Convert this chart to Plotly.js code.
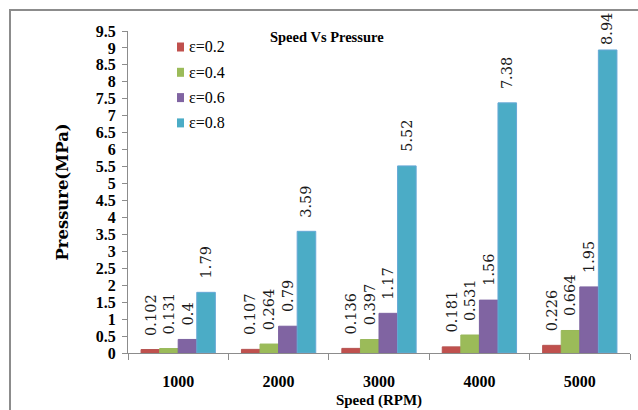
<!DOCTYPE html>
<html>
<head>
<meta charset="utf-8">
<script src="https://cdn.plot.ly/plotly-3.0.1.min.js"></script>
<style>
  html, body { margin: 0; padding: 0; background: #fff; }
  #wrap { position: relative; width: 638px; height: 410px; overflow: hidden; }
  #chart { position: absolute; left: 0; top: 0; width: 638px; height: 410px; }
  #frame { position: absolute; left: 9px; top: 9px; width: 640px; height: 420px;
           border-left: 2px solid #8c8c8c; border-top: 2px solid #8c8c8c; pointer-events: none; }
</style>
</head>
<body>
<div id="wrap">
  <div id="chart"></div>
  <div id="frame"></div>
</div>
<script>
// Speed categories (RPM)
const speeds = ['1000', '2000', '3000', '4000', '5000'];

// Pressure (MPa) for each eccentricity ratio
const eps02 = [0.102, 0.107, 0.136, 0.181, 0.226];
const eps04 = [0.131, 0.264, 0.397, 0.531, 0.664];
const eps06 = [0.4, 0.79, 1.17, 1.56, 1.95];
const eps08 = [1.79, 3.59, 5.52, 7.38, 8.94];

const seriesNames = ['ε=0.2', 'ε=0.4', 'ε=0.6', 'ε=0.8'];
const seriesColors = ['#C0504D', '#9BBB59', '#8064A2', '#4BACC6'];
const seriesEdges = ['#b65350', '#98b85a', '#7c62a0', '#66a8d6'];
const seriesValues = [eps02, eps04, eps06, eps08];

// Plot geometry (pixels)
const W = 638, H = 410;
const M = { l: 128, r: 8, t: 31, b: 57 };
const plotW = W - M.l - M.r;
const plotH = H - M.t - M.b;
const yMax = 9.5;
const bargap = 0.26;

const serif = 'Liberation Serif';
const labelFont = { family: 'DejaVu Serif', size: 14.5, color: '#1a1a1a' };

const traces = seriesValues.map((vals, i) => ({
  type: 'bar',
  name: seriesNames[i],
  x: speeds,
  y: vals,
  marker: { color: seriesColors[i], line: { color: seriesEdges[i], width: 1 } },
  showlegend: false,
  hoverinfo: 'x+y+name'
}));

// Value labels: rotated, sitting a little above each bar
const nSeries = seriesValues.length;
const barW = (1 - bargap) / nSeries;
const pxPerUnit = plotH / yMax;
const labelGap = 12;
const minTop = 15; // keep labels inside the frame
const annotations = [];
seriesValues.forEach((vals, i) => {
  const off = -(1 - bargap) / 2 + barW * (i + 0.5);
  vals.forEach((v, j) => {
    const s = String(v);
    const digits = s.replace('.', '').length;
    const textLen = (digits * 0.636 + (s.includes('.') ? 0.318 : 0)) * labelFont.size;
    const barTopPx = M.t + (yMax - v) * pxPerUnit;
    let gap = labelGap;
    if (barTopPx - gap - textLen < minTop) gap = barTopPx - textLen - minTop;
    annotations.push({
      xref: 'x', yref: 'y',
      x: j + off, y: v,
      text: s,
      textangle: -90,
      showarrow: false,
      xanchor: 'center', yanchor: 'bottom',
      yshift: gap,
      font: labelFont
    });
  });
});

// Legend: swatches and labels in the upper left of the plot
const legendLeftPx = 177, legendTopPx = 47, legendStepPx = 25.3;
const toPX = px => (px - M.l) / plotW;
const toPY = py => (H - M.b - py) / plotH;
const shapes = [];
seriesNames.forEach((name, i) => {
  const cy = legendTopPx + i * legendStepPx;
  shapes.push({
    type: 'rect', xref: 'paper', yref: 'paper',
    x0: toPX(legendLeftPx), x1: toPX(legendLeftPx + 7),
    y0: toPY(cy + 4.5), y1: toPY(cy - 4.5),
    fillcolor: seriesColors[i], line: { width: 0 }
  });
  annotations.push({
    xref: 'paper', yref: 'paper',
    x: toPX(legendLeftPx + 10), y: toPY(cy),
    xanchor: 'left', yanchor: 'middle',
    text: name, showarrow: false,
    font: { family: serif, size: 16, color: '#000' }
  });
});

const layout = {
  width: W,
  height: H,
  margin: M,
  paper_bgcolor: '#ffffff',
  plot_bgcolor: '#ffffff',
  barmode: 'group',
  bargap: bargap,
  bargroupgap: 0,
  title: {
    text: '<b>Speed Vs Pressure</b>',
    font: { family: serif, size: 14.5, color: '#000' },
    xref: 'paper', x: 0.396, xanchor: 'center',
    yref: 'container', y: 0.91, yanchor: 'middle'
  },
  showlegend: false,
  annotations: annotations,
  shapes: shapes,
  xaxis: {
    type: 'category',
    showgrid: false,
    zeroline: false,
    showline: true,
    linecolor: '#8c8c8c',
    linewidth: 1,
    ticks: 'outside',
    tickson: 'boundaries',
    ticklen: 6,
    tickcolor: '#8c8c8c',
    tickfont: { family: serif, size: 16, color: '#000', weight: 'bold' },
    ticklabelstandoff: 14,
    title: {
      text: '<b>Speed (RPM)</b>',
      font: { family: serif, size: 15, color: '#000' },
      standoff: 5
    }
  },
  yaxis: {
    range: [0, yMax],
    dtick: 0.5,
    tick0: 0,
    showgrid: false,
    zeroline: false,
    showline: true,
    linecolor: '#8c8c8c',
    linewidth: 1,
    ticks: 'outside',
    ticklen: 5,
    tickcolor: '#8c8c8c',
    tickfont: { family: serif, size: 16, color: '#000', weight: 'bold' },
    ticklabelstandoff: 3,
    title: {
      text: '<b>Pressure(MPa)</b>',
      font: { family: 'DejaVu Serif', size: 16.4, color: '#000' },
      standoff: 23
    }
  }
};

Plotly.newPlot('chart', traces, layout, { displayModeBar: false, staticPlot: true });
</script>
</body>
</html>
